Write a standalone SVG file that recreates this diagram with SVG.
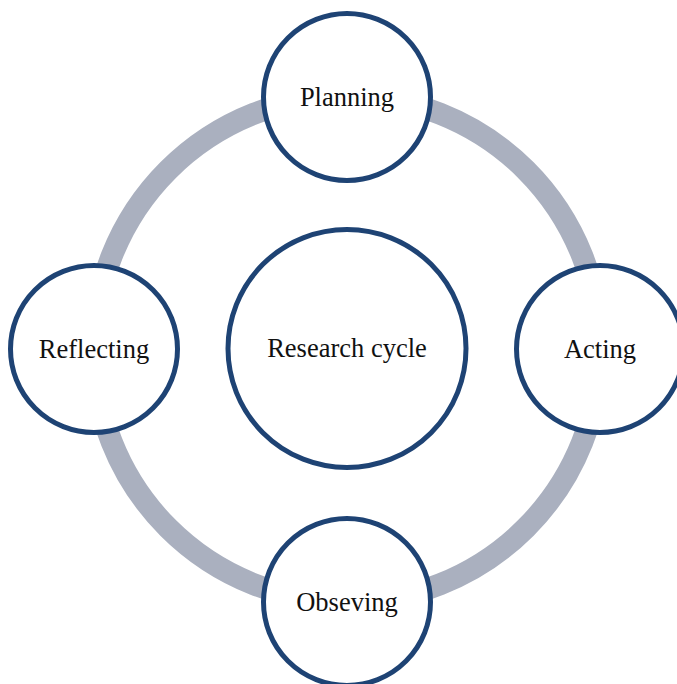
<svg xmlns="http://www.w3.org/2000/svg" width="677" height="684" viewBox="0 0 677 684">
<style>
.node{fill:#ffffff;stroke:#1e4374;stroke-width:5}
.lbl{font-family:"Liberation Serif","Times New Roman",serif;font-size:26.5px;fill:#111111;text-anchor:middle}
.ring{fill:none;stroke:#aab0bf;stroke-width:22}
</style>
<rect width="677" height="684" fill="#ffffff"/>
<g id="connectors">
<circle class="ring" cx="347" cy="349" r="253"/>
</g>
<g id="center">
<circle class="node" cx="347" cy="348.5" r="119"/>
<text class="lbl" x="347" y="357">Research cycle</text>
</g>
<g id="planning">
<circle class="node" cx="347" cy="97" r="83.5"/>
<text class="lbl" x="347" y="106">Planning</text>
</g>
<g id="acting">
<circle class="node" cx="600" cy="349" r="83.5"/>
<text class="lbl" x="600" y="358">Acting</text>
</g>
<g id="observing">
<circle class="node" cx="347" cy="602" r="83.5"/>
<text class="lbl" x="347" y="611">Obseving</text>
</g>
<g id="reflecting">
<circle class="node" cx="94" cy="349" r="83.5"/>
<text class="lbl" x="94" y="358">Reflecting</text>
</g>
</svg>
